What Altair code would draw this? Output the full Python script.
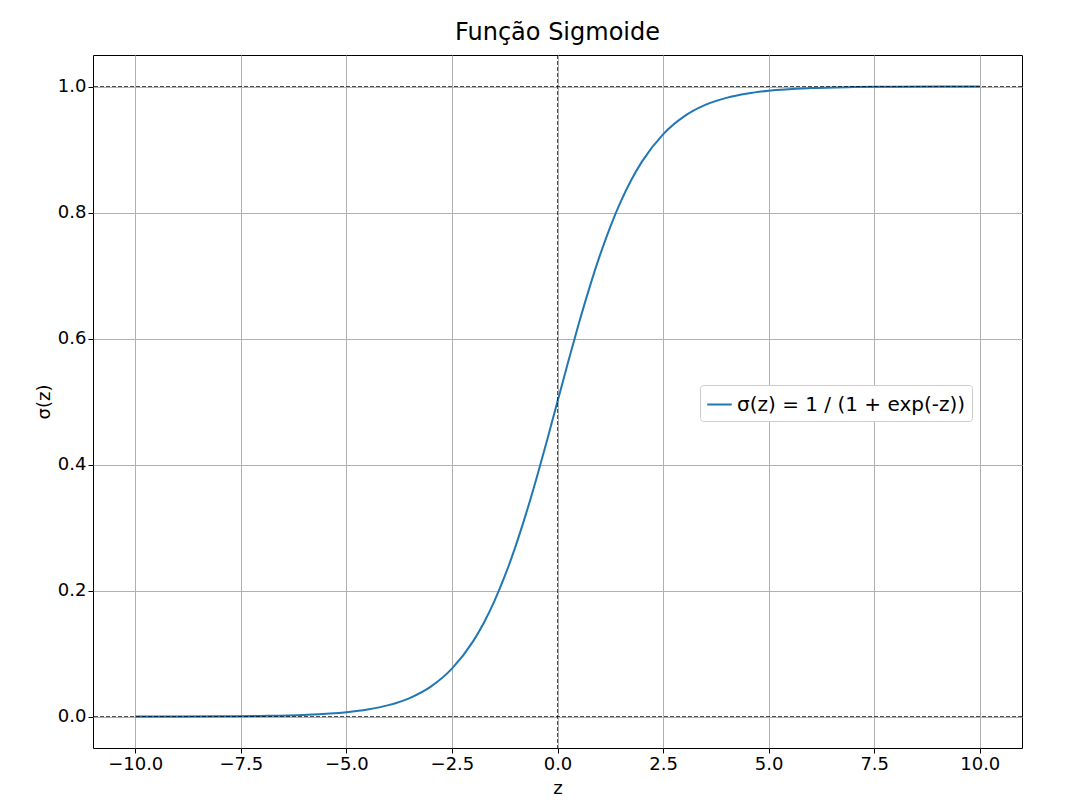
import altair as alt
import pandas as pd

z_vals = [-10, -9, -8, -7, -6, -5, -4.5, -4, -3.5, -3, -2.5, -2, -1.75, -1.5, -1.25, -1, -0.75, -0.5, -0.25, 0,
          0.25, 0.5, 0.75, 1, 1.25, 1.5, 1.75, 2, 2.5, 3, 3.5, 4, 4.5, 5, 6, 7, 8, 9, 10]
s_vals = [0.0000, 0.0001, 0.0003, 0.0009, 0.0025, 0.0067, 0.0110, 0.0180, 0.0293, 0.0474, 0.0759, 0.1192, 0.1480,
          0.1824, 0.2227, 0.2689, 0.3208, 0.3775, 0.4378, 0.5000, 0.5622, 0.6225, 0.6792, 0.7311, 0.7773, 0.8176,
          0.8520, 0.8808, 0.9241, 0.9526, 0.9707, 0.9820, 0.9890, 0.9933, 0.9975, 0.9991, 0.9997, 0.9999, 1.0000]
label = "σ(z) = 1 / (1 + exp(-z))"

df = pd.DataFrame({"z": z_vals, "s": s_vals, "k": [label] * len(z_vals)})

xs = alt.Scale(domain=[-11, 11], nice=False, zero=False)
ys = alt.Scale(domain=[-0.05, 1.05], nice=False, zero=False)
ax_x = alt.Axis(values=[-10, -7.5, -5, -2.5, 0, 2.5, 5, 7.5, 10], format=".1f", title="z",
                grid=True, gridColor="#b0b0b0", gridWidth=1, titlePadding=6)
ax_y = alt.Axis(values=[0, 0.2, 0.4, 0.6, 0.8, 1.0], format=".1f", title="σ(z)",
                grid=True, gridColor="#b0b0b0", gridWidth=1)

line = alt.Chart(df).mark_line(strokeWidth=2, interpolate="monotone").encode(
    x=alt.X("z:Q", scale=xs, axis=ax_x),
    y=alt.Y("s:Q", scale=ys, axis=ax_y),
    color=alt.Color("k:N", scale=alt.Scale(range=["#1f77b4"]),
                    legend=alt.Legend(title=None, orient="none", legendX=607, legendY=330,
                                      fillColor="white", strokeColor="#cccccc", padding=6,
                                      cornerRadius=3, labelFontSize=20, symbolType="stroke",
                                      symbolStrokeWidth=2, symbolSize=600, labelLimit=500)),
)

hdf = pd.DataFrame({"y": [0.0, 1.0]})
vdf = pd.DataFrame({"x": [0.0]})
hr = alt.Chart(hdf).mark_rule(color="black", strokeWidth=0.7, strokeDash=[4, 2]).encode(y=alt.Y("y:Q", scale=ys))
vr = alt.Chart(vdf).mark_rule(color="black", strokeWidth=0.7, strokeDash=[4, 2]).encode(x=alt.X("x:Q", scale=xs))

chart = alt.layer(line, hr, vr).properties(
    width=929, height=693,
    title=alt.Title("Função Sigmoide", fontSize=24, fontWeight="normal", font="DejaVu Sans", offset=10),
    autosize=alt.AutoSizeParams(type="none"),
    padding={"left": 85, "top": 47, "right": 62, "bottom": 50},
).configure_view(stroke="black", strokeWidth=1).configure_axis(
    labelFont="DejaVu Sans", titleFont="DejaVu Sans", labelFontSize=18, titleFontSize=18,
    titleFontWeight="normal", domain=False, tickColor="black", labelColor="black", titleColor="black",
    tickSize=5,
).configure_legend(labelFont="DejaVu Sans")

chart.save("out.html", embed_options={"renderer": "svg", "actions": False})
